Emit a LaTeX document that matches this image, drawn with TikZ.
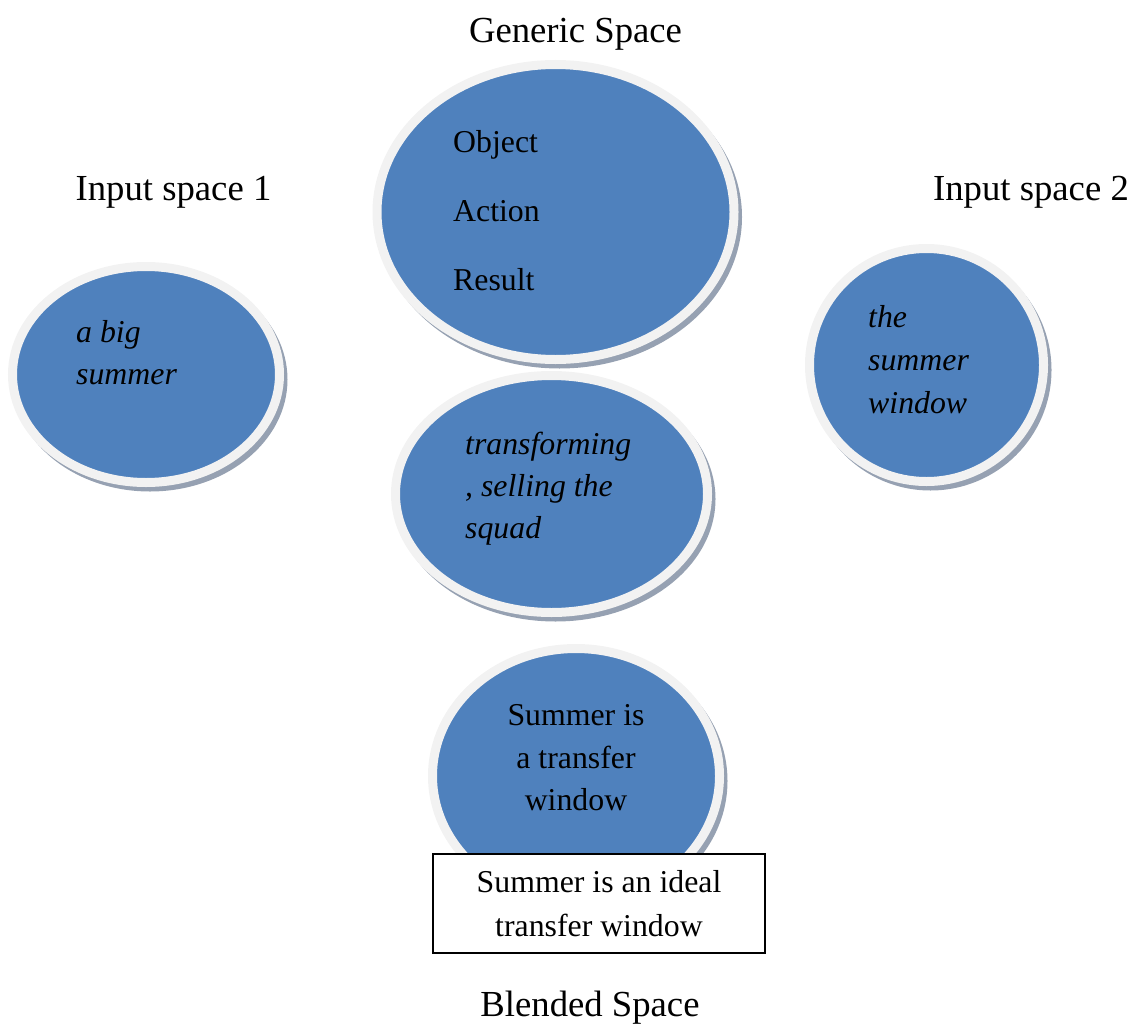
\documentclass[tikz,border=0pt]{standalone}
\usepackage{fontspec}
\setmainfont{Liberation Serif}
\usetikzlibrary{shapes.geometric}
\definecolor{blobblue}{RGB}{79,129,189}
\definecolor{blobrim}{RGB}{242,242,242}
\definecolor{blobshadow}{RGB}{150,161,178}
\newcommand\blobat[5]{%
  \node[shade node, minimum width={2*(#4+8.5)}, minimum height={2*(#5+8.5)}] (#1s) at (#2+4,#3+5) {};
  \node[blob, minimum width={2*(#4+4.5)}, minimum height={2*(#5+4.5)}] (#1) at (#2,#3) {};
}
\begin{document}
\begin{tikzpicture}[x=1pt,y=-1pt,
  blob/.style={ellipse, fill=blobblue, draw=blobrim, line width=9pt, inner sep=0pt, outer sep=0pt},
  shade node/.style={ellipse, fill=blobshadow, draw=none, inner sep=0pt, outer sep=0pt},
  lbl/.style={font=\fontsize{36.7}{43}\selectfont, inner sep=0pt, anchor=base},
  txt/.style={font=\fontsize{31.8}{43}\selectfont, inner sep=0pt, anchor=base west},
  itxt/.style={font=\fontsize{31.8}{43}\selectfont\itshape, inner sep=0pt, anchor=base west},
  ctxt/.style={font=\fontsize{31.8}{43}\selectfont, inner sep=0pt, anchor=base},
  resultbox/.style={draw=black, line width=1.5pt, fill=white, inner sep=0pt,
    minimum width=332, minimum height=99, align=center, font=\fontsize{31.8}{44}\selectfont}
]
\useasboundingbox (0,0) rectangle (1135,1025);

% ellipses
\blobat{generic}{555.5}{212}{174}{143}
\blobat{inone}{146}{374.5}{129}{103.5}
\blobat{intwo}{926.5}{365}{112.5}{112}
\blobat{mid}{551.5}{494}{151.5}{114}
\blobat{blend}{576}{776}{139}{123}

% headings
\node[lbl] (genlbl) at (575.5,43) {Generic Space};
\node[lbl] (in1lbl) at (173.5,200.5) {Input space 1};
\node[lbl] (in2lbl) at (1031,200) {Input space 2};
\node[lbl] (bllbl) at (590,1016) {Blended Space};

% generic space contents
\node[txt] (g1) at (453,152) {Object};
\node[txt] (g2) at (453,221) {Action};
\node[txt] (g3) at (453,290) {Result};

% input space 1
\node[itxt] (a1) at (76,342) {a big};
\node[itxt] (a2) at (76,384) {summer};

% input space 2
\node[itxt] (b1) at (868,327) {the};
\node[itxt] (b2) at (868,370) {summer};
\node[itxt] (b3) at (868,413) {window};

% middle
\node[itxt] (m1) at (465,454) {transforming};
\node[itxt] (m2) at (465,496) {, selling the};
\node[itxt] (m3) at (465,538) {squad};

% blended
\node[ctxt] (c1) at (576,725) {Summer is};
\node[ctxt] (c2) at (576,768) {a transfer};
\node[ctxt] (c3) at (576,810) {window};

% result box
\node[resultbox] (box) at (599,903.5) {Summer is an ideal\\transfer window};
\end{tikzpicture}
\end{document}
